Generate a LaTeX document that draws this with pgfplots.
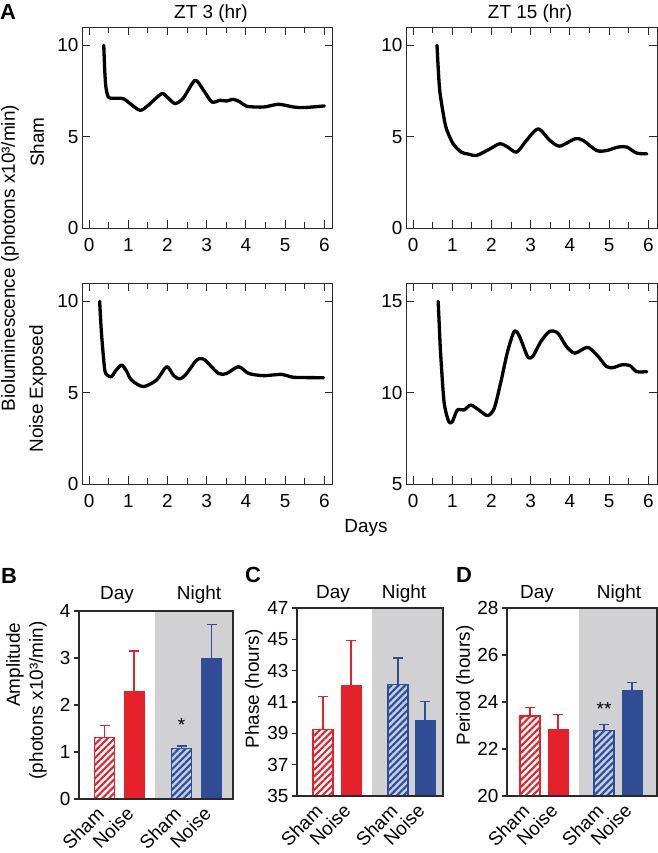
\documentclass[border=0pt]{standalone}
\usepackage{fontspec}
\setmainfont{Liberation Sans}
\usepackage{pgfplots}
\pgfplotsset{compat=1.18}
\usetikzlibrary{patterns.meta}
\definecolor{myred}{HTML}{E5212B}
\definecolor{myblue}{HTML}{2F4C94}
\definecolor{lblue}{HTML}{C2CDE8}
\definecolor{bggray}{HTML}{D1D1D3}
\definecolor{axc}{HTML}{2A2A2A}
\newcommand{\fs}{\fontsize{19}{22}\selectfont}
\pgfplotsset{
 lumi/.style={scale only axis, width=251bp, height=201bp, xmin=-0.18, xmax=6.22,
   xtick={0,...,6}, minor x tick num=1, xtick pos=both, ytick pos=both, tick align=inside,
   major tick length=8bp, minor tick length=6bp,
   axis line style={line width=1bp, axc}, every tick/.style={line width=1bp, axc},
   ticklabel style={font=\fs}, /pgf/number format/assume math mode=true,
   xticklabel style={yshift=-7bp}},
 curve/.style={line width=3.3bp, black, smooth, tension=0.45, line join=round, line cap=round},
 barax/.style={scale only axis, height=188bp, xmin=0, axis on top,
   xtick pos=left, ytick pos=left, tick align=outside, major tick length=5bp,
   axis line style={line width=1.1bp, axc}, every tick/.style={line width=1.1bp, axc},
   x tick style={draw=none},
   ticklabel style={font=\fs}, /pgf/number format/assume math mode=true,
   xticklabels={Sham,Noise,Sham,Noise},
   xticklabel style={rotate=45, anchor=east, xshift=-4bp, yshift=-2bp}},
 eb/.style={error bars/.cd, y dir=plus, y explicit,
   error bar style={line width=1.2bp, #1},
   error mark options={rotate=90, mark size=5bp, line width=1.2bp, #1}},
 shamday/.style={ybar, bar width=20bp, bar shift=0pt, draw=myred, line width=1.3bp,
   preaction={fill=white}, pattern={Lines[angle=45,distance=4.8bp,line width=2.1bp]}, pattern color=myred, eb=myred},
 noiseday/.style={ybar, bar width=20bp, bar shift=0pt, draw=myred, fill=myred, line width=1bp, eb=myred},
 shamnight/.style={ybar, bar width=20bp, bar shift=0pt, draw=myblue, line width=1.3bp,
   preaction={fill=lblue}, pattern={Lines[angle=45,distance=4.8bp,line width=2.1bp]}, pattern color=myblue, eb=myblue},
 noisenight/.style={ybar, bar width=20bp, bar shift=0pt, draw=myblue, fill=myblue, line width=1bp, eb=myblue},
 bg/.style={fill=bggray, draw=none, forget plot},
}
\begin{document}
\begin{tikzpicture}[font=\fs]
\useasboundingbox (0,0) rectangle (658bp,-853bp);
% ---------- Panel A ----------
\node[font=\bfseries\fontsize{22}{24}\selectfont] at (8bp,-12bp) {A};
\node at (211bp,-13.5bp) {ZT 3 (hr)};
\node at (530bp,-13.5bp) {ZT 15 (hr)};
\node[rotate=90] at (10bp,-258bp) {Bioluminescence (photons x10³/min)};
\node[rotate=90] at (37bp,-142bp) {Sham};
\node[rotate=90] at (38bp,-389bp) {Noise Exposed};
\node at (366bp,-528bp) {Days};

\begin{axis}[lumi, at={(82bp,-27bp)}, anchor=north west, ymin=0, ymax=11, ytick={0,5,10}]
\addplot[curve] coordinates {(0.375,10.0)(0.40,8.6)(0.43,7.7)(0.49,7.17)(0.6,7.1)(0.87,7.08)(1.05,6.8)(1.30,6.44)(1.5,6.7)(1.85,7.35)(2.0,7.15)(2.19,6.81)(2.4,7.1)(2.70,8.08)(2.9,7.6)(3.13,6.90)(3.34,6.99)(3.5,6.95)(3.68,7.04)(3.85,6.9)(4.02,6.66)(4.45,6.62)(4.83,6.77)(5.22,6.62)(5.48,6.59)(6.0,6.68)};
\end{axis}

\begin{axis}[lumi, at={(406bp,-27bp)}, anchor=north west, ymin=0, ymax=11, ytick={0,5,10}]
\addplot[curve] coordinates {(0.61,10)(0.64,8.8)(0.68,7.52)(0.77,6.25)(0.85,5.43)(1.02,4.61)(1.23,4.15)(1.4,4.05)(1.62,3.97)(1.96,4.33)(2.21,4.61)(2.4,4.45)(2.64,4.15)(2.89,4.79)(3.19,5.43)(3.49,4.79)(3.74,4.48)(4.13,4.88)(4.34,4.79)(4.68,4.24)(4.94,4.24)(5.23,4.43)(5.45,4.43)(5.70,4.10)(5.96,4.06)};
\end{axis}

\begin{axis}[lumi, at={(82bp,-283bp)}, anchor=north west, ymin=0, ymax=11, ytick={0,5,10}]
\addplot[curve] coordinates {(0.27,10)(0.30,8.8)(0.33,7.87)(0.40,6.24)(0.47,5.95)(0.57,5.87)(0.68,6.2)(0.83,6.51)(0.95,6.2)(1.08,5.69)(1.38,5.33)(1.72,5.69)(1.98,6.42)(2.15,5.95)(2.3,5.75)(2.45,5.95)(2.74,6.78)(2.85,6.85)(2.96,6.78)(3.30,6.05)(3.51,6.05)(3.81,6.42)(4.07,6.05)(4.45,5.93)(4.92,6.00)(5.22,5.84)(5.98,5.82)};
\end{axis}

\begin{axis}[lumi, at={(406bp,-283bp)}, anchor=north west, ymin=5, ymax=16, ytick={5,10,15}]
\addplot[curve] coordinates {(0.64,15)(0.67,13.6)(0.70,12.25)(0.79,9.5)(0.91,8.41)(1.0,8.41)(1.13,9.05)(1.30,9.05)(1.47,9.32)(1.68,9.05)(1.90,8.74)(2.07,9.14)(2.24,10.6)(2.41,12.25)(2.58,13.35)(2.71,13.1)(2.92,11.98)(3.05,11.98)(3.26,12.8)(3.48,13.35)(3.69,13.26)(3.91,12.53)(4.12,12.16)(4.38,12.44)(4.50,12.44)(4.72,11.98)(4.93,11.43)(5.10,11.37)(5.32,11.52)(5.53,11.48)(5.70,11.15)(5.96,11.15)};
\end{axis}

% ---------- Panel B ----------
\node[font=\bfseries\fontsize{22}{24}\selectfont] at (9bp,-576bp) {B};
\node[rotate=90, anchor=east] at (15bp,-619bp) {Amplitude};
\node[rotate=90, anchor=east] at (38bp,-618bp) {(photons x10³/min)};
\node at (117bp,-595bp) {Day};
\node at (199bp,-595bp) {Night};
\begin{axis}[barax, at={(79bp,-799bp)}, anchor=south west, width=154bp, xmax=154,
  ymin=0, ymax=4, ytick={0,1,2,3,4}, xtick={25.5,55,102.5,132.5}]
\addplot[bg] coordinates {(76,0)(76,4)(154,4)(154,0)} \closedcycle;
\addplot[shamday] coordinates {(25.5,1.31) +- (0,0.26)};
\addplot[noiseday] coordinates {(55,2.28) +- (0,0.87)};
\addplot[shamnight] coordinates {(102.5,1.075) +- (0,0.055)};
\addplot[noisenight] coordinates {(132.5,3.0) +- (0,0.72)};
\node at (axis cs:102.5,1.58) {*};
\end{axis}

% ---------- Panel C ----------
\node[font=\bfseries\fontsize{22}{24}\selectfont] at (253bp,-575bp) {C};
\node[rotate=90, anchor=east] at (254bp,-626bp) {Phase (hours)};
\node at (333bp,-594bp) {Day};
\node at (404bp,-594bp) {Night};
\begin{axis}[barax, at={(297bp,-796bp)}, anchor=south west, width=146bp, xmax=146,
  ymin=35, ymax=47, ytick={35,37,...,47}, xtick={26,54,101,128}]
\addplot[bg] coordinates {(75,35)(75,47)(146,47)(146,35)} \closedcycle;
\addplot[shamday] coordinates {(26,39.23) +- (0,2.11)};
\addplot[noiseday] coordinates {(54,42.06) +- (0,2.89)};
\addplot[shamnight] coordinates {(101,42.13) +- (0,1.68)};
\addplot[noisenight] coordinates {(128,39.85) +- (0,1.17)};
\end{axis}

% ---------- Panel D ----------
\node[font=\bfseries\fontsize{22}{24}\selectfont] at (464bp,-575bp) {D};
\node[rotate=90, anchor=east] at (465bp,-622bp) {Period (hours)};
\node at (537bp,-594bp) {Day};
\node at (619bp,-594bp) {Night};
\begin{axis}[barax, at={(507bp,-796bp)}, anchor=south west, width=150bp, xmax=150,
  ymin=20, ymax=28, ytick={20,22,...,28}, xtick={23,51,97,125}]
\addplot[bg] coordinates {(72,20)(72,28)(150,28)(150,20)} \closedcycle;
\addplot[shamday] coordinates {(23,23.40) +- (0,0.36)};
\addplot[noiseday] coordinates {(51,22.84) +- (0,0.64)};
\addplot[shamnight] coordinates {(97,22.78) +- (0,0.27)};
\addplot[noisenight] coordinates {(125,24.48) +- (0,0.34)};
\node at (axis cs:97,23.72) {**};
\end{axis}
\end{tikzpicture}
\end{document}
